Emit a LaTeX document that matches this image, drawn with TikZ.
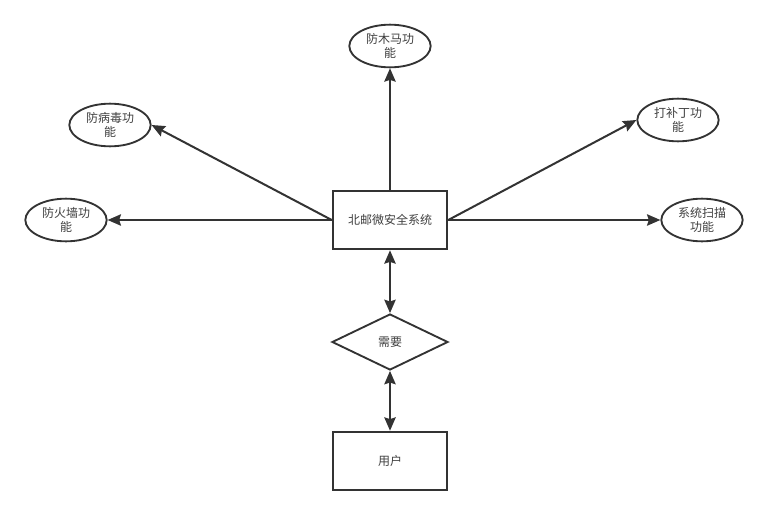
\documentclass[tikz,border=0pt]{standalone}
\usepackage{fontspec}
\setmainfont{Noto Sans CJK SC}
\usetikzlibrary{shapes.geometric, arrows.meta, positioning}

\definecolor{linegray}{HTML}{333333}

\begin{document}
\begin{tikzpicture}[
    x=0.75pt, y=-0.75pt,
    box/.style={
        rectangle, draw=linegray, line width=1.4pt, fill=white,
        minimum width=86pt, minimum height=44pt, inner sep=0pt,
        font=\fontsize{9pt}{11pt}\selectfont, text=black!75, align=center
    },
    func/.style={
        ellipse, draw=linegray, line width=1.4pt, fill=white,
        minimum width=61pt, minimum height=32pt, inner sep=0pt,
        font=\fontsize{9pt}{11pt}\selectfont, text=black!75, align=center
    },
    cond/.style={
        diamond, draw=linegray, line width=1.4pt, fill=white,
        minimum width=87pt, minimum height=42pt, inner sep=0pt,
        font=\fontsize{9pt}{11pt}\selectfont, text=black!75, align=center
    },
    arrow/.style={-{Stealth[length=10pt, width=8.5pt, inset=1.3pt]}, line width=1.5pt, draw=linegray},
    twoway/.style={{Stealth[length=10pt, width=8.5pt, inset=1.3pt]}-{Stealth[length=10pt, width=8.5pt, inset=1.3pt]}, line width=1.5pt, draw=linegray}
]
\useasboundingbox (0,0) rectangle (767,514);

% Center system
\node[box] (sys) at (390, 220) {北邮微安全系统};

% Functions around it
\node[func] (muma) at (390, 46) {防木马功\\能};
\node[func] (bingdu) at (110, 125) {防病毒功\\能};
\node[func] (buding) at (678, 120) {打补丁功\\能};
\node[func] (huoqiang) at (66, 220) {防火墙功\\能};
\node[func] (saomiao) at (702, 220) {系统扫描\\功能};

\draw[arrow] (sys.north) -- (muma.south);
\draw[arrow] (sys.west) -- (bingdu.east);
\draw[arrow] (sys.west) -- (huoqiang.east);
\draw[arrow] (sys.east) -- (buding.west);
\draw[arrow] (sys.east) -- (saomiao.west);

% Need and user (bottom)
\node[cond] (xuyao) at (390, 342) {需要};
\node[box] (yonghu) at (390, 461) {用户};

\draw[twoway] (sys.south) -- (xuyao.north);
\draw[twoway] (xuyao.south) -- (yonghu.north);

\end{tikzpicture}
\end{document}
